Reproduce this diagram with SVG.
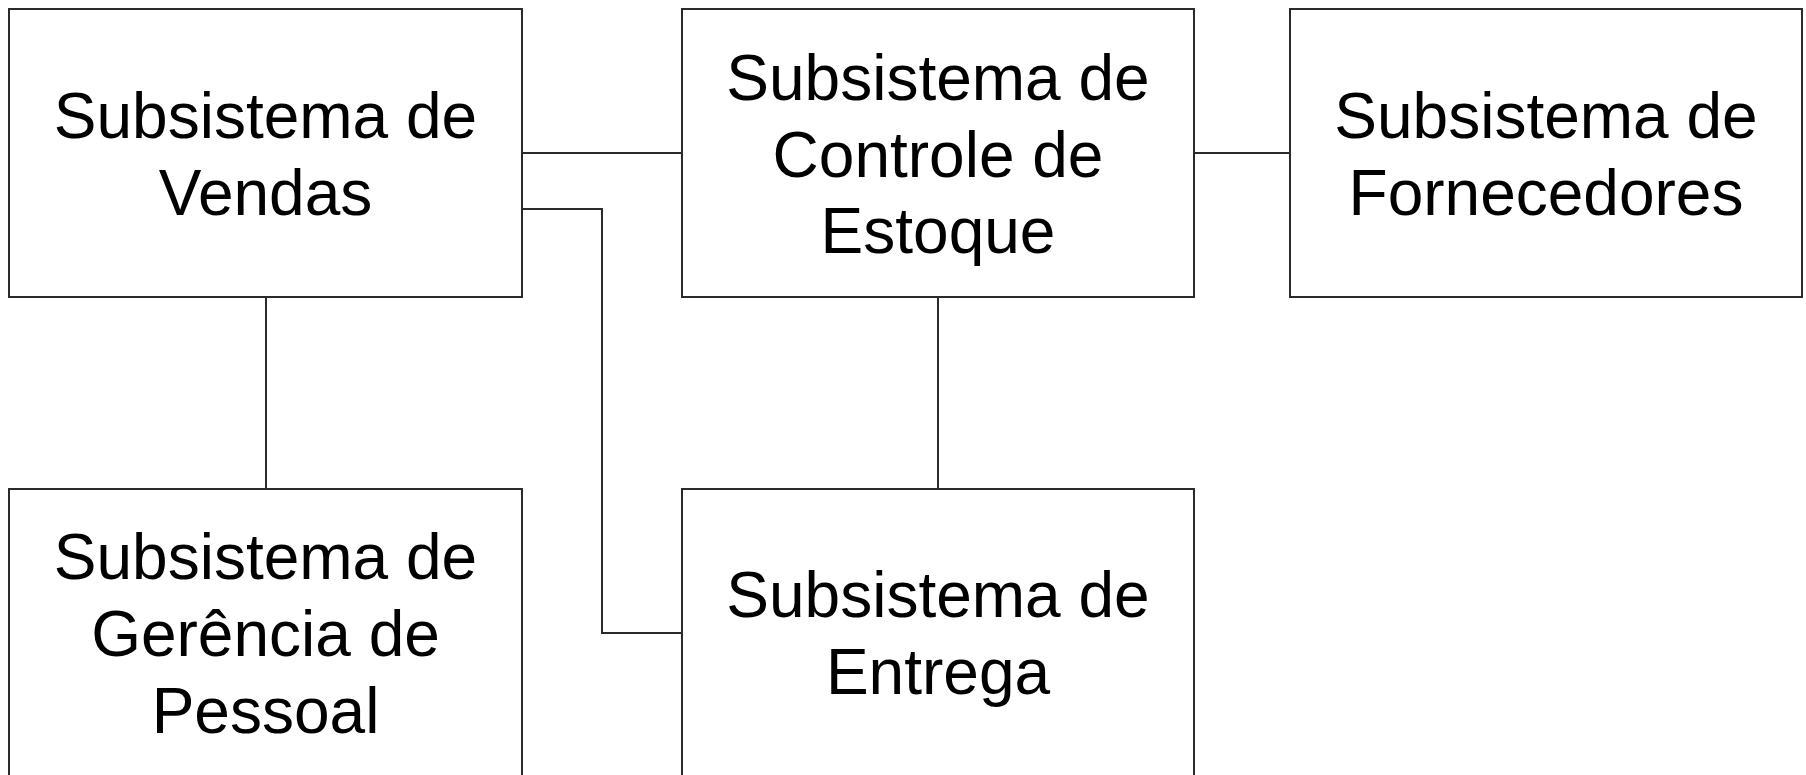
<svg xmlns="http://www.w3.org/2000/svg" width="1806" height="775" viewBox="0 0 1806 775">
<style>
.box{fill:#ffffff;stroke:#2b2b2b;stroke-width:2}
.lbl{font-family:"Liberation Sans",Arial,sans-serif;font-size:64px;fill:#000000;text-anchor:middle}
.conn{fill:none;stroke:#2b2b2b;stroke-width:2}
</style>
<rect width="1806" height="775" fill="#ffffff"/>
<g id="connectors">
<path class="conn" d="M522 153H682"/>
<path class="conn" d="M1194 153H1290"/>
<path class="conn" d="M522 209H602V633H682"/>
<path class="conn" d="M266 297V489"/>
<path class="conn" d="M938 297V489"/>
</g>
<g id="vendas">
<rect class="box" x="9" y="9" width="513" height="288"/>
<text class="lbl" x="265.5" y="138">Subsistema de</text>
<text class="lbl" x="265.5" y="215">Vendas</text>
</g>
<g id="estoque">
<rect class="box" x="682" y="9" width="512" height="288"/>
<text class="lbl" x="938" y="100">Subsistema de</text>
<text class="lbl" x="938" y="177">Controle de</text>
<text class="lbl" x="938" y="253">Estoque</text>
</g>
<g id="fornecedores">
<rect class="box" x="1290" y="9" width="512" height="288"/>
<text class="lbl" x="1546" y="138">Subsistema de</text>
<text class="lbl" x="1546" y="215">Fornecedores</text>
</g>
<g id="pessoal">
<rect class="box" x="9" y="489" width="513" height="288"/>
<text class="lbl" x="265.5" y="579">Subsistema de</text>
<text class="lbl" x="265.5" y="656">Gerência de</text>
<text class="lbl" x="265.5" y="733">Pessoal</text>
</g>
<g id="entrega">
<rect class="box" x="682" y="489" width="512" height="288"/>
<text class="lbl" x="938" y="617">Subsistema de</text>
<text class="lbl" x="938" y="694">Entrega</text>
</g>
</svg>
